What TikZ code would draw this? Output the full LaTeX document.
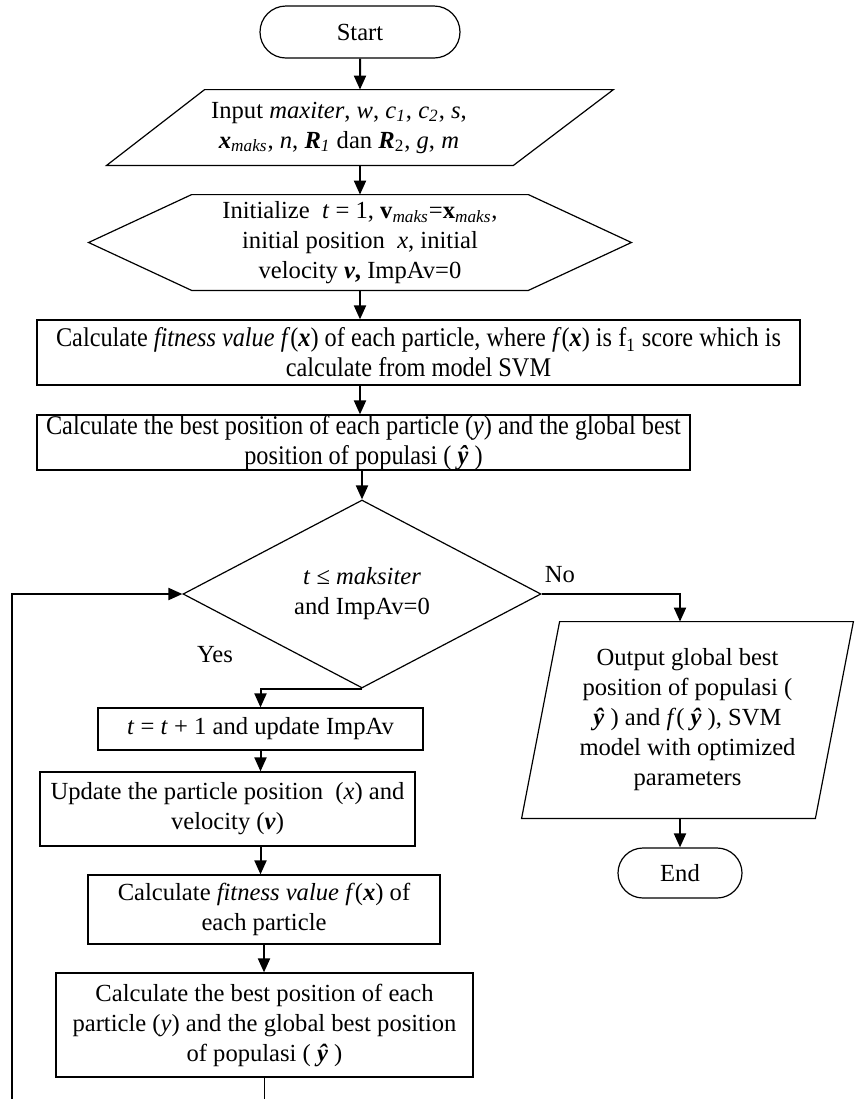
\documentclass[tikz,border=0pt]{standalone}
\usepackage{fontspec}
\setmainfont{Liberation Serif}
\newfontfamily\narrowfont[FakeStretch=0.9]{Liberation Serif}
\usetikzlibrary{shapes.geometric, shapes.misc, arrows.meta, calc}

\begin{document}
\begin{tikzpicture}[x=0.5pt, y=-0.5pt,
    every node/.style={font=\fontsize{12.3}{15}\selectfont, align=center, inner sep=0pt},
    term/.style={rounded rectangle, draw, line width=0.6pt},
    proc/.style={rectangle, draw, line width=0.6pt},
    narrow/.style={font=\narrowfont\fontsize{13.5}{15}\selectfont},
    outline/.style={line width=0.6pt},
    arrow/.style={-{Triangle[length=7pt, width=6pt]}, line width=1pt}
]
\useasboundingbox (0,0) rectangle (855,1099);

% Main column
\node[term, minimum width=100pt, minimum height=26pt] (start) at (360,32) {Start};
\node[minimum width=253pt, minimum height=37.5pt] (input) at (360,127.5)
  {\hspace*{-21pt}Input \textit{maxiter}, \textit{w}, \textit{c\textsubscript{1}}, \textit{c\textsubscript{2}}, \textit{s},\\
   \hspace*{-21pt}\textbf{\textit{x}}\textsubscript{\textit{maks}}, \textit{n}, \textbf{\textit{R}}\textsubscript{\textit{1}} dan \textbf{\textit{R}}\textsubscript{2}, \textit{g}, \textit{m}};
\node[minimum width=271pt, minimum height=47.5pt] (init) at (360,242.5)
  {Initialize~~\textit{t} = 1, \textbf{v}\textsubscript{\textit{maks}}=\textbf{x}\textsubscript{\textit{maks}},\\
   initial position~~\textit{x}, initial\\
   velocity \textbf{\textit{v},} ImpAv=0};
\node[proc, narrow, minimum width=381.5pt, minimum height=32.5pt] (calcfit) at (418.5,352.5)
  {Calculate \textit{fitness value} \textit{f}(\textbf{\textit{x}}) of each particle, where \textit{f}(\textbf{\textit{x}}) is f\textsubscript{1} score which is\\
   calculate from model SVM};
\node[proc, narrow, minimum width=326.5pt, minimum height=27.5pt] (best) at (363.5,442.5)
  {Calculate the best position of each particle (\textit{y}) and the global best\\
   position of populasi ( \textbf{\textit{ŷ}} )};
\node[diamond, draw, line width=0.6pt, aspect=2, minimum width=179pt, minimum height=94pt] (check) at (362,594)
  {\textit{t} ≤ \textit{maksiter}\\ and ImpAv=0};

% No branch
\node (no) at (560,575) {No};
\node[minimum width=165.5pt, minimum height=98pt] (output) at (687.5,720)
  {Output global best\\
   position of populasi (\\
   \textbf{\textit{ŷ}} ) and \textit{f}( \textbf{\textit{ŷ}} ), SVM\\
   model with optimized\\
   parameters};
\node[term, minimum width=62pt, minimum height=25pt] (end) at (680,873) {End};

% Yes branch
\node (yes) at (215,655) {Yes};
\node[proc, minimum width=162.5pt, minimum height=21pt] (incr) at (260.5,729)
  {\textit{t} = \textit{t} + 1 and update ImpAv};
\node[proc, minimum width=187.5pt, minimum height=37pt] (update) at (227.5,809)
  {Update the particle position~~(\textit{x}) and\\ velocity (\textbf{\textit{v}})};
\node[proc, minimum width=176pt, minimum height=34.5pt] (fit) at (264,909.5)
  {Calculate \textit{fitness value f}(\textbf{\textit{x}}) of\\ each particle};
\node[proc, minimum width=208.5pt, minimum height=52pt] (bestl) at (264.5,1025)
  {Calculate the best position of each\\
   particle (\textit{y}) and the global best position\\
   of populasi ( \textbf{\textit{ŷ}} )};
\coordinate (loopend) at (12,1099);

% Outlines
\draw[outline] (input.south west) -- ([xshift=49pt]input.north west) -- (input.north east)
  -- ([xshift=-50pt]input.south east) -- cycle;
\draw[outline] (init.west) -- ([xshift=51.5pt]init.north west) -- ([xshift=-51.5pt]init.north east)
  -- (init.east) -- ([xshift=-51.5pt]init.south east) -- ([xshift=51.5pt]init.south west) -- cycle;
\draw[outline] (output.south west) -- ([xshift=19pt]output.north west) -- (output.north east)
  -- ([xshift=-19pt]output.south east) -- cycle;

% Connections
\draw[arrow] (start) -- (input);
\draw[arrow] (input) -- (init);
\draw[arrow] (init.south) -- (init.south |- calcfit.north);
\draw[arrow] (init.south |- calcfit.south) -- (init.south |- best.north);
\draw[arrow] (check.north |- best.south) -- (check.north);
\draw[arrow] (check.east) -| (end.north |- output.north);
\draw[arrow] (end.north |- output.south) -- (end.north);
\draw[arrow] (check.south) -| (incr.north);
\draw[arrow] (incr.south) -- (incr.south |- update.north);
\draw[arrow] (incr.south |- update.south) -- (incr.south |- fit.north);
\draw[arrow] (fit.south) -- (fit.south |- bestl.north);
\draw[line width=0.6pt] (bestl.south) -- (bestl.south |- loopend);
\draw[arrow] (loopend) |- (check.west);
\end{tikzpicture}
\end{document}
